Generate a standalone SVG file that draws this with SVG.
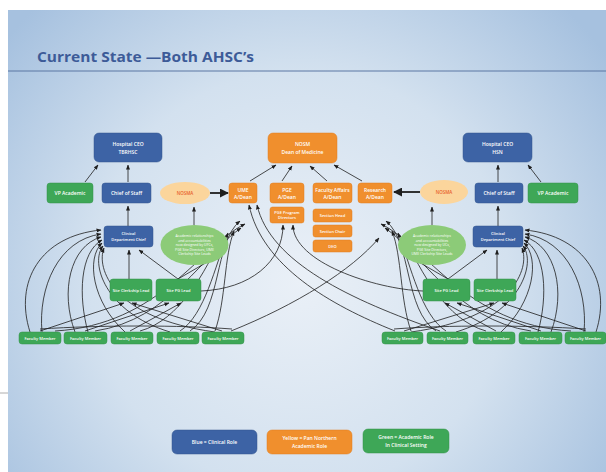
<svg xmlns="http://www.w3.org/2000/svg" width="606" height="472" viewBox="0 0 606 472">
<defs>
<radialGradient id="bg" cx="300" cy="280" r="380" gradientUnits="userSpaceOnUse">
<stop offset="0" stop-color="#eaf0f7"/>
<stop offset="0.55" stop-color="#d3e1ef"/>
<stop offset="1" stop-color="#a6c1df"/>
</radialGradient>
<marker id="ah" viewBox="0 0 10 10" refX="9" refY="5" markerWidth="5" markerHeight="5" markerUnits="userSpaceOnUse" orient="auto"><path d="M0,1 L10,5 L0,9 z" fill="#1e1e1e"/></marker>
<marker id="ahb" viewBox="0 0 10 10" refX="9" refY="5" markerWidth="9" markerHeight="9" markerUnits="userSpaceOnUse" orient="auto"><path d="M0,0 L10,5 L0,10 z" fill="#1e1e1e"/></marker>
<style>
.blue{fill:#3d63a5;stroke:#34568f;stroke-width:0.5}
.orng{fill:#f08f2d;stroke:#e07f20;stroke-width:0.5}
.grn{fill:#3ea757;stroke:#35934b;stroke-width:0.5}
.t{font-family:"Open Sans","Liberation Sans",sans-serif;font-size:5px;font-weight:600;fill:#ffffff;text-anchor:middle}
.s{font-size:4px}
.ov{font-family:"Open Sans","Liberation Sans",sans-serif;font-size:3.5px;fill:#ffffff;text-anchor:middle}
.na{font-family:"Open Sans","Liberation Sans",sans-serif;font-size:4.5px;font-weight:600;fill:#e8602a;text-anchor:middle}
.c{fill:none;stroke:#1e1e1e;stroke-width:0.8;marker-end:url(#ah)}
.cn{fill:none;stroke:#1e1e1e;stroke-width:0.8}
.cb{fill:none;stroke:#1e1e1e;stroke-width:1.8;marker-end:url(#ahb)}
</style>
</defs>
<rect width="606" height="472" fill="#ffffff"/>
<rect x="8" y="10" width="598" height="462" fill="url(#bg)"/>
<line x1="0" y1="393" x2="8" y2="393" stroke="#9a9a9a" stroke-width="0.8"/>
<text x="37" y="62" font-family="'Open Sans','Liberation Sans',sans-serif" font-size="15" font-weight="bold" fill="#3d5b98" textLength="217" lengthAdjust="spacingAndGlyphs">Current State —Both AHSC’s</text>
<line x1="8" y1="71" x2="606" y2="71" stroke="#5a76a3" stroke-width="1"/>

<g id="connectors">
<!-- left side -->
<g id="left-conn">
<path class="c" d="M85 182 L98 165"/>
<path class="c" d="M128 182 L128 165"/>
<path class="c" d="M128 226 L128 206"/>
<path class="c" d="M194 225 L194 207"/>
<path class="cb" d="M210 193 L228 193"/>
<path class="c" d="M129 279 L129 250"/>
<path class="c" d="M178 279 L139 250"/>
<path class="cn" d="M178 279 L209 261"/>
<!-- faculty to clinical department chief -->
<path class="c" d="M30 332 C14 282 40 236 101 230"/>
<path class="c" d="M42 332 C38 288 58 240 101 234"/>
<path class="c" d="M75 332 C60 292 70 246 101 237"/>
<path class="c" d="M88 332 C78 296 80 252 102 240"/>
<path class="c" d="M125 332 C92 302 86 258 102 243"/>
<path class="c" d="M170 332 C104 312 90 262 103 246"/>
<path class="c" d="M215 332 C112 318 96 268 104 248"/>
<!-- faculty to site leads -->
<path class="c" d="M40 331 L124 303"/>
<path class="c" d="M222 331 L132 303"/>
<path class="c" d="M85 331 L169 303"/>
<path class="c" d="M130 331 L181 303"/>
<path class="cn" d="M40 329 C100 325 180 325 232 329"/>
<!-- faculty fan toward A/Deans -->
<path class="c" d="M140 331 C180 320 205 272 222 236"/>
<path class="c" d="M180 331 C205 315 215 266 228 233"/>
<path class="c" d="M215 331 C226 300 224 256 234 231"/>
<path class="c" d="M95 331 C170 320 205 252 241 228"/>
<path class="c" d="M55 331 C160 325 200 246 245 224"/>
<path class="c" d="M190 331 C222 310 214 242 240 221"/>
</g>
<!-- right side (mirror) -->
<g id="right-conn" transform="translate(626,0) scale(-1,1)">
<path class="c" d="M85 182 L98 165"/>
<path class="c" d="M128 182 L128 165"/>
<path class="c" d="M128 226 L128 206"/>
<path class="c" d="M194 225 L194 207"/>
<path class="cb" d="M206 192 L232 192"/>
<path class="c" d="M129 279 L129 250"/>
<path class="c" d="M178 279 L139 250"/>
<path class="cn" d="M178 279 L209 261"/>
<path class="c" d="M30 332 C14 282 40 236 101 230"/>
<path class="c" d="M42 332 C38 288 58 240 101 234"/>
<path class="c" d="M75 332 C60 292 70 246 101 237"/>
<path class="c" d="M88 332 C78 296 80 252 102 240"/>
<path class="c" d="M125 332 C92 302 86 258 102 243"/>
<path class="c" d="M170 332 C104 312 90 262 103 246"/>
<path class="c" d="M215 332 C112 318 96 268 104 248"/>
<path class="c" d="M40 331 L124 303"/>
<path class="c" d="M222 331 L132 303"/>
<path class="c" d="M85 331 L169 303"/>
<path class="c" d="M130 331 L181 303"/>
<path class="cn" d="M40 329 C100 325 180 325 232 329"/>
<path class="c" d="M140 331 C180 320 205 272 222 236"/>
<path class="c" d="M180 331 C205 315 215 266 228 233"/>
<path class="c" d="M215 331 C226 300 224 256 234 231"/>
<path class="c" d="M95 331 C170 320 205 252 241 228"/>
<path class="c" d="M55 331 C160 325 200 246 245 224"/>
<path class="c" d="M190 331 C222 310 214 242 240 221"/>
</g>
<!-- centre -->
<path class="c" d="M250 181 L276 165"/>
<path class="c" d="M282 181 L292 166"/>
<path class="c" d="M327 181 L310 166"/>
<path class="c" d="M362 181 L334 165"/>
<path class="c" d="M201 291 C250 289 283 262 283 225"/>
<path class="c" d="M423 291 C374 289 293 262 293 225"/>
<path class="c" d="M395 331 C330 305 262 266 249 205"/>
<path class="c" d="M440 331 C350 300 270 262 257 205"/>
<path class="c" d="M231 331 C296 305 352 270 379 238"/>
</g>

<g id="ceoL"><rect class="blue" x="94" y="133" width="68" height="29" rx="5"/><text class="t" x="128" y="146">Hospital CEO</text><text class="t" x="128" y="154">TBRHSC</text></g>
<g id="vpL"><rect class="grn" x="47" y="183" width="46" height="20" rx="3"/><text class="t" x="70" y="194.5">VP Academic</text></g>
<g id="cosL"><rect class="blue" x="102" y="183" width="49" height="20" rx="3"/><text class="t" x="126.5" y="194.5">Chief of Staff</text></g>
<g id="nosmaL"><ellipse cx="185" cy="193" rx="25" ry="11" fill="#fbd59c"/><text class="na" x="185" y="194.5">NOSMA</text></g>
<g id="cdcL"><rect class="blue" x="104" y="226" width="49" height="21" rx="3"/><text class="t s" x="128.5" y="235">Clinical</text><text class="t s" x="128.5" y="241">Department Chief</text></g>
<g id="ovalL"><ellipse cx="194.5" cy="245" rx="34" ry="20" fill="#8ccb78"/>
<text class="ov" x="194.5" y="237">Academic relationships</text><text class="ov" x="194.5" y="241.5">and accountabilities</text><text class="ov" x="194.5" y="246">now designed by UFCs,</text><text class="ov" x="194.5" y="250.5">PGE Site Directors, UME</text><text class="ov" x="194.5" y="255">Clerkship Site Leads</text></g>
<g id="sclL"><rect class="grn" x="110" y="279" width="42" height="22" rx="3"/><text class="t s" x="131" y="291.5">Site Clerkship Lead</text></g>
<g id="spgL"><rect class="grn" x="156" y="279" width="45" height="22" rx="3"/><text class="t s" x="178.5" y="291.5">Site PG Lead</text></g>

<g id="nosm"><rect class="orng" x="268" y="133" width="69" height="30" rx="5"/><text class="t" x="302.5" y="146">NOSM</text><text class="t" x="302.5" y="154">Dean of Medicine</text></g>
<g id="ume"><rect class="orng" x="229" y="183" width="28" height="20" rx="3"/><text class="t" x="243" y="191.5">UME</text><text class="t" x="243" y="198.5">A/Dean</text></g>
<g id="pge"><rect class="orng" x="270" y="183" width="34" height="20" rx="3"/><text class="t" x="287" y="191.5">PGE</text><text class="t" x="287" y="198.5">A/Dean</text></g>
<g id="fa"><rect class="orng" x="313" y="183" width="39" height="20" rx="3"/><text class="t" x="332.5" y="191.5">Faculty Affairs</text><text class="t" x="332.5" y="198.5">A/Dean</text></g>
<g id="res"><rect class="orng" x="358" y="183" width="34" height="20" rx="3"/><text class="t" x="375" y="191.5">Research</text><text class="t" x="375" y="198.5">A/Dean</text></g>
<g id="pgepd"><rect class="orng" x="270" y="207" width="34" height="16" rx="2.5"/><text class="t s" x="287" y="214">PGE Program</text><text class="t s" x="287" y="219">Directors</text></g>
<g id="sh"><rect class="orng" x="313" y="209" width="39" height="13" rx="2.5"/><text class="t s" x="332.5" y="217">Section Head</text></g>
<g id="sc"><rect class="orng" x="313" y="225" width="39" height="12" rx="2.5"/><text class="t s" x="332.5" y="232.5">Section Chair</text></g>
<g id="deo"><rect class="orng" x="313" y="240" width="39" height="12" rx="2.5"/><text class="t s" x="332.5" y="247.5">DEO</text></g>

<g id="ceoR"><rect class="blue" x="463" y="133" width="69" height="29" rx="5"/><text class="t" x="497.5" y="146">Hospital CEO</text><text class="t" x="497.5" y="154">HSN</text></g>
<g id="cosR"><rect class="blue" x="475" y="183" width="48" height="20" rx="3"/><text class="t" x="499" y="194.5">Chief of Staff</text></g>
<g id="vpR"><rect class="grn" x="528" y="183" width="50" height="20" rx="3"/><text class="t" x="553" y="194.5">VP Academic</text></g>
<g id="nosmaR"><ellipse cx="444" cy="192" rx="24" ry="12" fill="#fbd59c"/><text class="na" x="444" y="193.5">NOSMA</text></g>
<g id="ovalR"><ellipse cx="432" cy="245" rx="34" ry="20" fill="#8ccb78"/>
<text class="ov" x="432" y="237">Academic relationships</text><text class="ov" x="432" y="241.5">and accountabilities</text><text class="ov" x="432" y="246">now designed by UCs,</text><text class="ov" x="432" y="250.5">PGE Site Directors,</text><text class="ov" x="432" y="255">UME Clerkship Site Leads</text></g>
<g id="cdcR"><rect class="blue" x="473" y="226" width="50" height="21" rx="3"/><text class="t s" x="498" y="235">Clinical</text><text class="t s" x="498" y="241">Department Chief</text></g>
<g id="spgR"><rect class="grn" x="423" y="279" width="47" height="22" rx="3"/><text class="t s" x="446.5" y="291.5">Site PG Lead</text></g>
<g id="sclR"><rect class="grn" x="474" y="279" width="42" height="22" rx="3"/><text class="t s" x="495" y="291.5">Site Clerkship Lead</text></g>

<g id="fmL1"><rect class="grn" x="19" y="332" width="42" height="12" rx="3"/><text class="t s" x="40" y="339.5">Faculty Member</text></g>
<g id="fmL2"><rect class="grn" x="64" y="332" width="43" height="12" rx="3"/><text class="t s" x="85.5" y="339.5">Faculty Member</text></g>
<g id="fmL3"><rect class="grn" x="111" y="332" width="42" height="12" rx="3"/><text class="t s" x="132" y="339.5">Faculty Member</text></g>
<g id="fmL4"><rect class="grn" x="157" y="332" width="42" height="12" rx="3"/><text class="t s" x="178" y="339.5">Faculty Member</text></g>
<g id="fmL5"><rect class="grn" x="202" y="332" width="42" height="12" rx="3"/><text class="t s" x="223" y="339.5">Faculty Member</text></g>
<g id="fmR1"><rect class="grn" x="382" y="332" width="41" height="12" rx="3"/><text class="t s" x="402.5" y="339.5">Faculty Member</text></g>
<g id="fmR2"><rect class="grn" x="427" y="332" width="41" height="12" rx="3"/><text class="t s" x="447.5" y="339.5">Faculty Member</text></g>
<g id="fmR3"><rect class="grn" x="473" y="332" width="42" height="12" rx="3"/><text class="t s" x="494" y="339.5">Faculty Member</text></g>
<g id="fmR4"><rect class="grn" x="519" y="332" width="43" height="12" rx="3"/><text class="t s" x="540.5" y="339.5">Faculty Member</text></g>
<g id="fmR5"><rect class="grn" x="565" y="332" width="41" height="12" rx="3"/><text class="t s" x="585.5" y="339.5">Faculty Member</text></g>

<g id="legBlue"><rect class="blue" x="172" y="430" width="85" height="24" rx="5"/><text class="t" x="214.5" y="443.5">Blue = Clinical Role</text></g>
<g id="legOrange"><rect class="orng" x="267" y="430" width="85" height="24" rx="5"/><text class="t" x="309.5" y="440">Yellow = Pan Northern</text><text class="t" x="309.5" y="447.5">Academic Role</text></g>
<g id="legGreen"><rect class="grn" x="363" y="429" width="86" height="24" rx="5"/><text class="t" x="406" y="439">Green = Academic Role</text><text class="t" x="406" y="446.5">In Clinical Setting</text></g>
</svg>
